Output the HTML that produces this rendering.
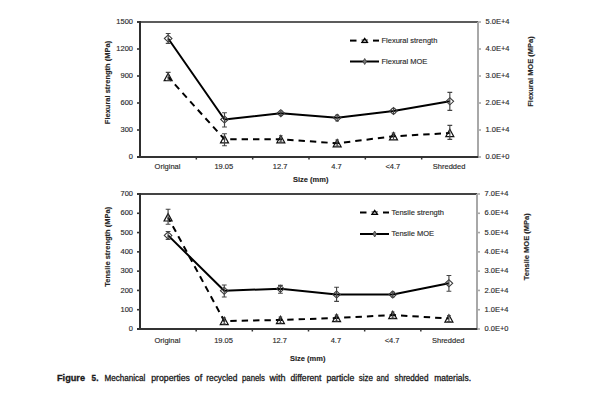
<!DOCTYPE html><html><head><meta charset="utf-8"><style>html,body{margin:0;padding:0;background:#fff;width:600px;height:400px;overflow:hidden}svg{display:block}</style></head><body>
<svg width="600" height="400" viewBox="0 0 600 400" font-family='"Liberation Sans", sans-serif'><style>text{stroke:#303030;stroke-width:0.15px} text.cap{stroke:#1a1a1a;stroke-width:0.3px}</style>
<rect width="600" height="400" fill="#fff"/>
<line x1="137" y1="22" x2="478" y2="22" stroke="#5c5c5c" stroke-width="2"/>
<line x1="478" y1="22" x2="478" y2="157" stroke="#a8a8a8" stroke-width="2"/>
<line x1="140" y1="21" x2="140" y2="158" stroke="#2e2e2e" stroke-width="2"/>
<line x1="137" y1="157" x2="479" y2="157" stroke="#333" stroke-width="2"/>
<line x1="137" y1="157.00" x2="140" y2="157.00" stroke="#333" stroke-width="1.6"/>
<line x1="478" y1="157.00" x2="481" y2="157.00" stroke="#a8a8a8" stroke-width="1.6"/>
<text x="133" y="159.20" text-anchor="end" font-size="7.5" fill="#2a2a2a">0</text>
<text x="485.5" y="159.20" font-size="7.5" fill="#2a2a2a">0.0E+0</text>
<line x1="137" y1="130.00" x2="140" y2="130.00" stroke="#333" stroke-width="1.6"/>
<line x1="478" y1="130.00" x2="481" y2="130.00" stroke="#a8a8a8" stroke-width="1.6"/>
<text x="133" y="132.20" text-anchor="end" font-size="7.5" fill="#2a2a2a">300</text>
<text x="485.5" y="132.20" font-size="7.5" fill="#2a2a2a">1.0E+4</text>
<line x1="137" y1="103.00" x2="140" y2="103.00" stroke="#333" stroke-width="1.6"/>
<line x1="478" y1="103.00" x2="481" y2="103.00" stroke="#a8a8a8" stroke-width="1.6"/>
<text x="133" y="105.20" text-anchor="end" font-size="7.5" fill="#2a2a2a">600</text>
<text x="485.5" y="105.20" font-size="7.5" fill="#2a2a2a">2.0E+4</text>
<line x1="137" y1="76.00" x2="140" y2="76.00" stroke="#333" stroke-width="1.6"/>
<line x1="478" y1="76.00" x2="481" y2="76.00" stroke="#a8a8a8" stroke-width="1.6"/>
<text x="133" y="78.20" text-anchor="end" font-size="7.5" fill="#2a2a2a">900</text>
<text x="485.5" y="78.20" font-size="7.5" fill="#2a2a2a">3.0E+4</text>
<line x1="137" y1="49.00" x2="140" y2="49.00" stroke="#333" stroke-width="1.6"/>
<line x1="478" y1="49.00" x2="481" y2="49.00" stroke="#a8a8a8" stroke-width="1.6"/>
<text x="133" y="51.20" text-anchor="end" font-size="7.5" fill="#2a2a2a">1200</text>
<text x="485.5" y="51.20" font-size="7.5" fill="#2a2a2a">4.0E+4</text>
<line x1="137" y1="22.00" x2="140" y2="22.00" stroke="#333" stroke-width="1.6"/>
<line x1="478" y1="22.00" x2="481" y2="22.00" stroke="#a8a8a8" stroke-width="1.6"/>
<text x="133" y="24.20" text-anchor="end" font-size="7.5" fill="#2a2a2a">1500</text>
<text x="485.5" y="24.20" font-size="7.5" fill="#2a2a2a">5.0E+4</text>
<line x1="196.33" y1="157" x2="196.33" y2="159.5" stroke="#333" stroke-width="1.5"/>
<line x1="252.67" y1="157" x2="252.67" y2="159.5" stroke="#333" stroke-width="1.5"/>
<line x1="309.00" y1="157" x2="309.00" y2="159.5" stroke="#333" stroke-width="1.5"/>
<line x1="365.33" y1="157" x2="365.33" y2="159.5" stroke="#333" stroke-width="1.5"/>
<line x1="421.67" y1="157" x2="421.67" y2="159.5" stroke="#333" stroke-width="1.5"/>
<text x="167.47" y="168.7" text-anchor="middle" font-size="7.5" fill="#2a2a2a">Original</text>
<text x="223.80" y="168.7" text-anchor="middle" font-size="7.5" fill="#2a2a2a">19.05</text>
<text x="280.13" y="168.7" text-anchor="middle" font-size="7.5" fill="#2a2a2a">12.7</text>
<text x="336.47" y="168.7" text-anchor="middle" font-size="7.5" fill="#2a2a2a">4.7</text>
<text x="392.80" y="168.7" text-anchor="middle" font-size="7.5" fill="#2a2a2a">&lt;4.7</text>
<text x="449.13" y="168.7" text-anchor="middle" font-size="7.5" fill="#2a2a2a">Shredded</text>
<text x="293" y="182" font-size="7.5" font-weight="bold" fill="#222">Size (mm)</text>
<text transform="translate(110,82.5) rotate(-90)" text-anchor="middle" font-size="7.5" font-weight="bold" fill="#222">Flexural strength (MPa)</text>
<text transform="translate(533,71.5) rotate(-90)" text-anchor="middle" font-size="7.5" font-weight="bold" fill="#222">Flexural MOE (MPa)</text>
<polyline points="168.17,38.5 224.50,119.5 280.83,113.2 337.17,117.8 393.50,111 449.83,101.3" fill="none" stroke="#000" stroke-width="2" stroke-linejoin="round"/>
<polyline points="168.17,77 224.50,139.3 280.83,139.3 337.17,143.3 393.50,136.3 449.83,133" fill="none" stroke="#000" stroke-width="2" stroke-dasharray="6.4 4.99" stroke-dashoffset="1.4"/>
<path d="M164.37,38.5 L168.17,34.9 L171.97,38.5 L168.17,42.1 Z" fill="none" stroke="#3a3a3a" stroke-width="1.05"/>
<path d="M165.77,33.5 H170.57 M168.17,33.5 V43.4 M165.77,43.4 H170.57" stroke="#444" stroke-width="1.15" fill="none"/>
<path d="M220.70,119.5 L224.50,115.9 L228.30,119.5 L224.50,123.1 Z" fill="none" stroke="#3a3a3a" stroke-width="1.05"/>
<path d="M222.10,112.7 H226.90 M224.50,112.7 V127 M222.10,127 H226.90" stroke="#444" stroke-width="1.15" fill="none"/>
<path d="M277.03,113.2 L280.83,109.60000000000001 L284.63,113.2 L280.83,116.8 Z" fill="none" stroke="#3a3a3a" stroke-width="1.05"/>
<path d="M279.03,111 H282.63 M280.83,111 V115.5 M279.03,115.5 H282.63" stroke="#444" stroke-width="1.15" fill="none"/>
<path d="M333.37,117.8 L337.17,114.2 L340.97,117.8 L337.17,121.39999999999999 Z" fill="none" stroke="#3a3a3a" stroke-width="1.05"/>
<path d="M335.37,115 H338.97 M337.17,115 V120.8 M335.37,120.8 H338.97" stroke="#444" stroke-width="1.15" fill="none"/>
<path d="M389.70,111 L393.50,107.4 L397.30,111 L393.50,114.6 Z" fill="none" stroke="#3a3a3a" stroke-width="1.05"/>
<path d="M391.70,108.5 H395.30 M393.50,108.5 V113.5 M391.70,113.5 H395.30" stroke="#444" stroke-width="1.15" fill="none"/>
<path d="M446.03,101.3 L449.83,97.7 L453.63,101.3 L449.83,104.89999999999999 Z" fill="none" stroke="#3a3a3a" stroke-width="1.05"/>
<path d="M447.43,92.4 H452.23 M449.83,92.4 V110.4 M447.43,110.4 H452.23" stroke="#444" stroke-width="1.15" fill="none"/>
<path d="M168.17,73.2 L172.17,80.6 L164.17,80.6 Z" fill="none" stroke="#111" stroke-width="1.2"/>
<path d="M165.77,72.4 H170.57 M168.17,72.4 V80.5 M165.77,80.5 H170.57" stroke="#444" stroke-width="1.15" fill="none"/>
<path d="M224.50,135.5 L228.50,142.9 L220.50,142.9 Z" fill="none" stroke="#111" stroke-width="1.2"/>
<path d="M222.10,133.7 H226.90 M224.50,133.7 V145.7 M222.10,145.7 H226.90" stroke="#444" stroke-width="1.15" fill="none"/>
<path d="M280.83,135.5 L284.83,142.9 L276.83,142.9 Z" fill="none" stroke="#111" stroke-width="1.2"/>
<path d="M279.03,135.7 H282.63 M280.83,135.7 V142 M279.03,142 H282.63" stroke="#444" stroke-width="1.15" fill="none"/>
<path d="M337.17,139.5 L341.17,146.9 L333.17,146.9 Z" fill="none" stroke="#111" stroke-width="1.2"/>
<path d="M335.37,140 H338.97 M337.17,140 V146 M335.37,146 H338.97" stroke="#444" stroke-width="1.15" fill="none"/>
<path d="M393.50,132.5 L397.50,139.9 L389.50,139.9 Z" fill="none" stroke="#111" stroke-width="1.2"/>
<path d="M391.70,133 H395.30 M393.50,133 V139.5 M391.70,139.5 H395.30" stroke="#444" stroke-width="1.15" fill="none"/>
<path d="M449.83,129.2 L453.83,136.6 L445.83,136.6 Z" fill="none" stroke="#111" stroke-width="1.2"/>
<path d="M447.43,125.3 H452.23 M449.83,125.3 V139.3 M447.43,139.3 H452.23" stroke="#444" stroke-width="1.15" fill="none"/>
<line x1="350" y1="40.6" x2="356.5" y2="40.6" stroke="#000" stroke-width="2"/>
<line x1="373" y1="40.6" x2="379" y2="40.6" stroke="#000" stroke-width="2"/>
<path d="M364.7,38.4 L367.5,42.4 L361.9,42.4 Z" fill="none" stroke="#000" stroke-width="1.2" stroke-linejoin="miter"/>
<line x1="361.5" y1="42.5" x2="367.9" y2="42.5" stroke="#000" stroke-width="1.2"/>
<line x1="361.5" y1="40.0" x2="367.9" y2="40.0" stroke="#000" stroke-width="0.8"/>
<line x1="350" y1="61.5" x2="379" y2="61.5" stroke="#000" stroke-width="2"/>
<path d="M363.0,61.5 L364.7,58.5 L366.4,61.5 L364.7,64.5 Z" fill="#777" stroke="#444" stroke-width="0.9"/>
<text x="381.5" y="42.9" font-size="7.5" fill="#2a2a2a">Flexural strength</text>
<text x="381.5" y="63.8" font-size="7.5" fill="#2a2a2a">Flexural MOE</text>
<line x1="137" y1="194" x2="477" y2="194" stroke="#444" stroke-width="2"/>
<line x1="477" y1="194" x2="477" y2="329" stroke="#a8a8a8" stroke-width="2"/>
<line x1="140" y1="193" x2="140" y2="330" stroke="#2e2e2e" stroke-width="2"/>
<line x1="137" y1="329" x2="478" y2="329" stroke="#333" stroke-width="2"/>
<line x1="137" y1="329.00" x2="140" y2="329.00" stroke="#333" stroke-width="1.6"/>
<line x1="477" y1="329.00" x2="480" y2="329.00" stroke="#a8a8a8" stroke-width="1.6"/>
<text x="133" y="331.20" text-anchor="end" font-size="7.5" fill="#2a2a2a">0</text>
<text x="484.5" y="331.20" font-size="7.5" fill="#2a2a2a">0.0E+0</text>
<line x1="137" y1="309.71" x2="140" y2="309.71" stroke="#333" stroke-width="1.6"/>
<line x1="477" y1="309.71" x2="480" y2="309.71" stroke="#a8a8a8" stroke-width="1.6"/>
<text x="133" y="311.91" text-anchor="end" font-size="7.5" fill="#2a2a2a">100</text>
<text x="484.5" y="311.91" font-size="7.5" fill="#2a2a2a">1.0E+4</text>
<line x1="137" y1="290.43" x2="140" y2="290.43" stroke="#333" stroke-width="1.6"/>
<line x1="477" y1="290.43" x2="480" y2="290.43" stroke="#a8a8a8" stroke-width="1.6"/>
<text x="133" y="292.63" text-anchor="end" font-size="7.5" fill="#2a2a2a">200</text>
<text x="484.5" y="292.63" font-size="7.5" fill="#2a2a2a">2.0E+4</text>
<line x1="137" y1="271.14" x2="140" y2="271.14" stroke="#333" stroke-width="1.6"/>
<line x1="477" y1="271.14" x2="480" y2="271.14" stroke="#a8a8a8" stroke-width="1.6"/>
<text x="133" y="273.34" text-anchor="end" font-size="7.5" fill="#2a2a2a">300</text>
<text x="484.5" y="273.34" font-size="7.5" fill="#2a2a2a">3.0E+4</text>
<line x1="137" y1="251.86" x2="140" y2="251.86" stroke="#333" stroke-width="1.6"/>
<line x1="477" y1="251.86" x2="480" y2="251.86" stroke="#a8a8a8" stroke-width="1.6"/>
<text x="133" y="254.06" text-anchor="end" font-size="7.5" fill="#2a2a2a">400</text>
<text x="484.5" y="254.06" font-size="7.5" fill="#2a2a2a">4.0E+4</text>
<line x1="137" y1="232.57" x2="140" y2="232.57" stroke="#333" stroke-width="1.6"/>
<line x1="477" y1="232.57" x2="480" y2="232.57" stroke="#a8a8a8" stroke-width="1.6"/>
<text x="133" y="234.77" text-anchor="end" font-size="7.5" fill="#2a2a2a">500</text>
<text x="484.5" y="234.77" font-size="7.5" fill="#2a2a2a">5.0E+4</text>
<line x1="137" y1="213.29" x2="140" y2="213.29" stroke="#333" stroke-width="1.6"/>
<line x1="477" y1="213.29" x2="480" y2="213.29" stroke="#a8a8a8" stroke-width="1.6"/>
<text x="133" y="215.49" text-anchor="end" font-size="7.5" fill="#2a2a2a">600</text>
<text x="484.5" y="215.49" font-size="7.5" fill="#2a2a2a">6.0E+4</text>
<line x1="137" y1="194.00" x2="140" y2="194.00" stroke="#333" stroke-width="1.6"/>
<line x1="477" y1="194.00" x2="480" y2="194.00" stroke="#a8a8a8" stroke-width="1.6"/>
<text x="133" y="196.20" text-anchor="end" font-size="7.5" fill="#2a2a2a">700</text>
<text x="484.5" y="196.20" font-size="7.5" fill="#2a2a2a">7.0E+4</text>
<line x1="196.17" y1="329" x2="196.17" y2="331.5" stroke="#333" stroke-width="1.5"/>
<line x1="252.33" y1="329" x2="252.33" y2="331.5" stroke="#333" stroke-width="1.5"/>
<line x1="308.50" y1="329" x2="308.50" y2="331.5" stroke="#333" stroke-width="1.5"/>
<line x1="364.67" y1="329" x2="364.67" y2="331.5" stroke="#333" stroke-width="1.5"/>
<line x1="420.83" y1="329" x2="420.83" y2="331.5" stroke="#333" stroke-width="1.5"/>
<text x="167.38" y="342.5" text-anchor="middle" font-size="7.5" fill="#2a2a2a">Original</text>
<text x="223.55" y="342.5" text-anchor="middle" font-size="7.5" fill="#2a2a2a">19.05</text>
<text x="279.72" y="342.5" text-anchor="middle" font-size="7.5" fill="#2a2a2a">12.7</text>
<text x="335.88" y="342.5" text-anchor="middle" font-size="7.5" fill="#2a2a2a">4.7</text>
<text x="392.05" y="342.5" text-anchor="middle" font-size="7.5" fill="#2a2a2a">&lt;4.7</text>
<text x="448.22" y="342.5" text-anchor="middle" font-size="7.5" fill="#2a2a2a">Shredded</text>
<text x="290" y="361" font-size="7.5" font-weight="bold" fill="#222">Size (mm)</text>
<text transform="translate(109.6,246.75) rotate(-90)" text-anchor="middle" font-size="7.5" font-weight="bold" fill="#222">Tensile strength (MPa)</text>
<text transform="translate(529,246.8) rotate(-90)" text-anchor="middle" font-size="7.5" font-weight="bold" fill="#222">Tensile MOE (MPa)</text>
<polyline points="168.08,235.4 224.25,290.7 280.42,288.7 336.58,294.5 392.75,294.5 448.92,283.25" fill="none" stroke="#000" stroke-width="2" stroke-linejoin="round"/>
<polyline points="168.08,217.4 224.25,321 280.42,320 336.58,318 392.75,315 448.92,318.5" fill="none" stroke="#000" stroke-width="2" stroke-dasharray="6.4 4.99" stroke-dashoffset="1.4"/>
<path d="M164.28,235.4 L168.08,231.8 L171.88,235.4 L168.08,239.0 Z" fill="none" stroke="#3a3a3a" stroke-width="1.05"/>
<path d="M165.68,231.5 H170.48 M168.08,231.5 V239.4 M165.68,239.4 H170.48" stroke="#444" stroke-width="1.15" fill="none"/>
<path d="M220.45,290.7 L224.25,287.09999999999997 L228.05,290.7 L224.25,294.3 Z" fill="none" stroke="#3a3a3a" stroke-width="1.05"/>
<path d="M221.85,285 H226.65 M224.25,285 V297 M221.85,297 H226.65" stroke="#444" stroke-width="1.15" fill="none"/>
<path d="M276.62,288.7 L280.42,285.09999999999997 L284.22,288.7 L280.42,292.3 Z" fill="none" stroke="#3a3a3a" stroke-width="1.05"/>
<path d="M278.02,285.3 H282.82 M280.42,285.3 V293.2 M278.02,293.2 H282.82" stroke="#444" stroke-width="1.15" fill="none"/>
<path d="M332.78,294.5 L336.58,290.9 L340.38,294.5 L336.58,298.1 Z" fill="none" stroke="#3a3a3a" stroke-width="1.05"/>
<path d="M334.18,287.2 H338.98 M336.58,287.2 V301.4 M334.18,301.4 H338.98" stroke="#444" stroke-width="1.15" fill="none"/>
<path d="M388.95,294.5 L392.75,290.9 L396.55,294.5 L392.75,298.1 Z" fill="none" stroke="#3a3a3a" stroke-width="1.05"/>
<path d="M390.95,292 H394.55 M392.75,292 V297 M390.95,297 H394.55" stroke="#444" stroke-width="1.15" fill="none"/>
<path d="M445.12,283.25 L448.92,279.65 L452.72,283.25 L448.92,286.85 Z" fill="none" stroke="#3a3a3a" stroke-width="1.05"/>
<path d="M446.52,275.5 H451.32 M448.92,275.5 V291.25 M446.52,291.25 H451.32" stroke="#444" stroke-width="1.15" fill="none"/>
<path d="M168.08,213.6 L172.08,221.0 L164.08,221.0 Z" fill="none" stroke="#111" stroke-width="1.2"/>
<path d="M165.68,209.2 H170.48 M168.08,209.2 V224.2 M165.68,224.2 H170.48" stroke="#444" stroke-width="1.15" fill="none"/>
<path d="M224.25,317.2 L228.25,324.6 L220.25,324.6 Z" fill="none" stroke="#111" stroke-width="1.2"/>
<path d="M222.45,318 H226.05 M224.25,318 V324 M222.45,324 H226.05" stroke="#444" stroke-width="1.15" fill="none"/>
<path d="M280.42,316.2 L284.42,323.6 L276.42,323.6 Z" fill="none" stroke="#111" stroke-width="1.2"/>
<path d="M278.62,317 H282.22 M280.42,317 V323 M278.62,323 H282.22" stroke="#444" stroke-width="1.15" fill="none"/>
<path d="M336.58,314.2 L340.58,321.6 L332.58,321.6 Z" fill="none" stroke="#111" stroke-width="1.2"/>
<path d="M334.78,315 H338.38 M336.58,315 V321 M334.78,321 H338.38" stroke="#444" stroke-width="1.15" fill="none"/>
<path d="M392.75,311.2 L396.75,318.6 L388.75,318.6 Z" fill="none" stroke="#111" stroke-width="1.2"/>
<path d="M390.95,312 H394.55 M392.75,312 V318 M390.95,318 H394.55" stroke="#444" stroke-width="1.15" fill="none"/>
<path d="M448.92,314.7 L452.92,322.1 L444.92,322.1 Z" fill="none" stroke="#111" stroke-width="1.2"/>
<path d="M447.12,315.5 H450.72 M448.92,315.5 V321.5 M447.12,321.5 H450.72" stroke="#444" stroke-width="1.15" fill="none"/>
<line x1="360" y1="212.5" x2="366.5" y2="212.5" stroke="#000" stroke-width="2"/>
<line x1="383" y1="212.5" x2="389" y2="212.5" stroke="#000" stroke-width="2"/>
<path d="M374.7,210.3 L377.5,214.3 L371.9,214.3 Z" fill="none" stroke="#000" stroke-width="1.2" stroke-linejoin="miter"/>
<line x1="371.5" y1="214.4" x2="377.9" y2="214.4" stroke="#000" stroke-width="1.2"/>
<line x1="371.5" y1="211.9" x2="377.9" y2="211.9" stroke="#000" stroke-width="0.8"/>
<line x1="360" y1="234" x2="389" y2="234" stroke="#000" stroke-width="2"/>
<path d="M373.0,234 L374.7,231 L376.4,234 L374.7,237 Z" fill="#777" stroke="#444" stroke-width="0.9"/>
<text x="391.5" y="214.8" font-size="7.5" fill="#2a2a2a">Tensile strength</text>
<text x="391.5" y="236.3" font-size="7.5" fill="#2a2a2a">Tensile MOE</text>
<text class="cap" x="57.0" y="381" font-size="8.7" font-weight="bold" fill="#1a1a1a" textLength="28.0" lengthAdjust="spacingAndGlyphs">Figure</text>
<text class="cap" x="91.6" y="381" font-size="8.7" font-weight="bold" fill="#1a1a1a" textLength="6.8" lengthAdjust="spacingAndGlyphs">5.</text>
<text class="cap" x="104.4" y="381" font-size="8.7"  fill="#1a1a1a" textLength="41.0" lengthAdjust="spacingAndGlyphs">Mechanical</text>
<text class="cap" x="151.2" y="381" font-size="8.7"  fill="#1a1a1a" textLength="38.8" lengthAdjust="spacingAndGlyphs">properties</text>
<text class="cap" x="194.6" y="381" font-size="8.7"  fill="#1a1a1a" textLength="7.6" lengthAdjust="spacingAndGlyphs">of</text>
<text class="cap" x="206.2" y="381" font-size="8.7"  fill="#1a1a1a" textLength="31.2" lengthAdjust="spacingAndGlyphs">recycled</text>
<text class="cap" x="242.0" y="381" font-size="8.7"  fill="#1a1a1a" textLength="23.0" lengthAdjust="spacingAndGlyphs">panels</text>
<text class="cap" x="269.6" y="381" font-size="8.7"  fill="#1a1a1a" textLength="16.0" lengthAdjust="spacingAndGlyphs">with</text>
<text class="cap" x="290.6" y="381" font-size="8.7"  fill="#1a1a1a" textLength="30.8" lengthAdjust="spacingAndGlyphs">different</text>
<text class="cap" x="326.4" y="381" font-size="8.7"  fill="#1a1a1a" textLength="28.0" lengthAdjust="spacingAndGlyphs">particle</text>
<text class="cap" x="358.8" y="381" font-size="8.7"  fill="#1a1a1a" textLength="14.2" lengthAdjust="spacingAndGlyphs">size</text>
<text class="cap" x="376.6" y="381" font-size="8.7"  fill="#1a1a1a" textLength="12.2" lengthAdjust="spacingAndGlyphs">and</text>
<text class="cap" x="394.6" y="381" font-size="8.7"  fill="#1a1a1a" textLength="33.8" lengthAdjust="spacingAndGlyphs">shredded</text>
<text class="cap" x="434.2" y="381" font-size="8.7"  fill="#1a1a1a" textLength="36.8" lengthAdjust="spacingAndGlyphs">materials.</text>
</svg></body></html>
